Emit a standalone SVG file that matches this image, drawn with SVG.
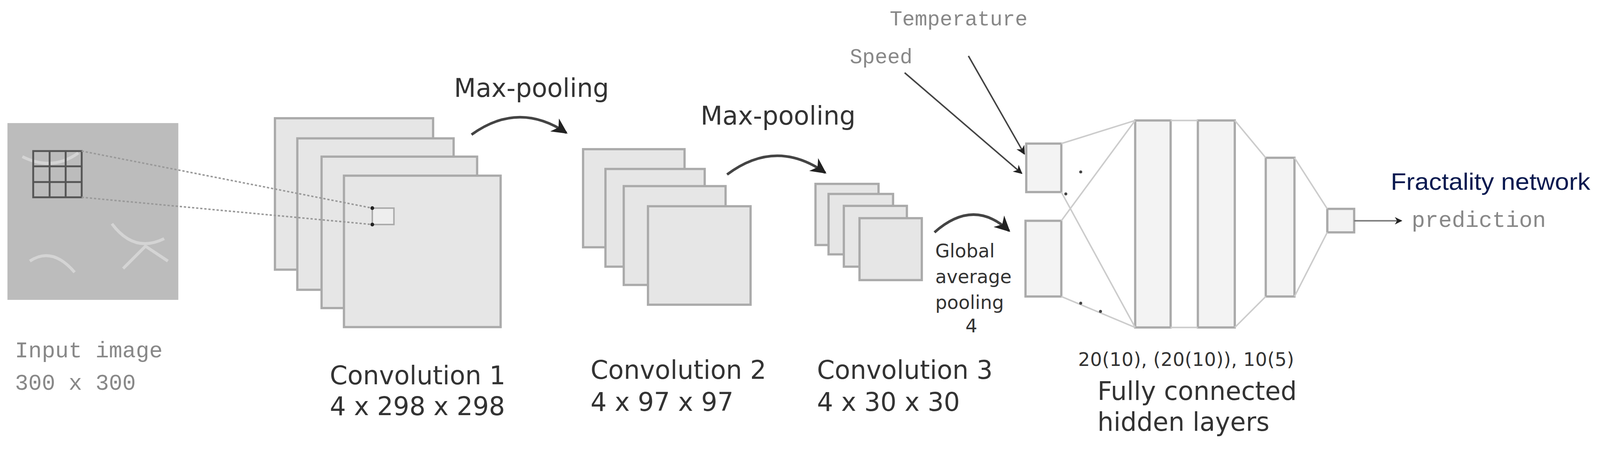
<svg xmlns="http://www.w3.org/2000/svg" width="4288" height="1183" viewBox="0 0 4288 1183">
<style>
.fm{fill:#e6e6e6;stroke:#aaa;stroke-width:6}
.fc{fill:#f3f3f3;stroke:#aaa;stroke-width:6}
.t{font-family:"DejaVu Sans",sans-serif;fill:#333}
.m{font-family:"Liberation Mono",monospace;fill:#888}
.ln{stroke:#ccc;stroke-width:4;fill:none}
.ar{stroke:#444;stroke-width:4;fill:none}
.cv{stroke:#444;stroke-width:7;fill:none}
</style>
<defs>
<marker id="ah" viewBox="0 0 10 10" refX="9" refY="5" markerWidth="6" markerHeight="6" orient="auto"><path d="M0,0L10,5L0,10L3,5z" fill="#222"/></marker>
<marker id="ah2" viewBox="0 0 10 10" refX="9" refY="5" markerWidth="5" markerHeight="5" orient="auto"><path d="M0,0L10,5L0,10L3,5z" fill="#222"/></marker>
</defs>
<rect width="4288" height="1183" fill="#fff"/>
<g transform="scale(0.955)">
<g id="input">
<rect x="20" y="330" width="458" height="474" fill="#bcbcbc"/>
<path d="M60,420 q80,40 150,-10 M300,600 q60,80 140,40 M80,700 q60,-40 120,30 M330,720 l60,-60 l60,40" stroke="#d4d4d4" stroke-width="8" fill="none"/>
<g stroke="#555" stroke-width="5" fill="none">
<rect x="89" y="405" width="130" height="124"/>
<path d="M133,405V529M176,405V529M89,446H219M89,488H219"/>
</g>
<text class="m" x="40" y="958" font-size="60">Input image</text>
<text class="m" x="40" y="1045" font-size="60">300 x 300</text>
</g>
<g id="conv1">
<rect class="fm" x="737" y="317" width="424" height="406"/>
<rect class="fm" x="797" y="371" width="419" height="406"/>
<rect class="fm" x="862" y="420" width="417" height="406"/>
<rect class="fm" x="922" y="471" width="420" height="406"/>
<rect x="998" y="558" width="58" height="44" fill="#eee" stroke="#aaa" stroke-width="4"/>
<text class="t" x="884" y="1030" font-size="68">Convolution 1</text>
<text class="t" x="884" y="1113" font-size="68">4 x 298 x 298</text>
</g>
<g id="conv2">
<rect class="fm" x="1563" y="400" width="272" height="263"/>
<rect class="fm" x="1623" y="453" width="266" height="262"/>
<rect class="fm" x="1672" y="499" width="273" height="265"/>
<rect class="fm" x="1737" y="553" width="275" height="264"/>
<text class="t" x="1583" y="1016" font-size="68">Convolution 2</text>
<text class="t" x="1583" y="1102" font-size="68">4 x 97 x 97</text>
</g>
<g id="conv3">
<rect class="fm" x="2186" y="493" width="169" height="164"/>
<rect class="fm" x="2221" y="520" width="173" height="162"/>
<rect class="fm" x="2262" y="552" width="169" height="163"/>
<rect class="fm" x="2304" y="585" width="167" height="166"/>
<text class="t" x="2190" y="1016" font-size="68">Convolution 3</text>
<text class="t" x="2190" y="1102" font-size="68">4 x 30 x 30</text>
</g>
<g id="gap">
<text class="t" font-size="50"><tspan x="2507" y="690">Global</tspan><tspan x="2507" y="759">average</tspan><tspan x="2507" y="828">pooling</tspan><tspan x="2588" y="891">4</tspan></text>
</g>
<g id="fc">
<rect class="fc" x="2751" y="385" width="94" height="130"/>
<rect class="fc" x="2749" y="592" width="96" height="203"/>
<rect class="fc" x="3043" y="323" width="95" height="555"/>
<rect class="fc" x="3211" y="323" width="99" height="555"/>
<rect class="fc" x="3393" y="423" width="77" height="372"/>
<rect class="fc" x="3558" y="560" width="72" height="63"/>
<text class="t" x="2890" y="981" font-size="50" textLength="579">20(10), (20(10)), 10(5)</text>
<text class="t" x="2942" y="1072" font-size="68">Fully connected</text>
<text class="t" x="2942" y="1155" font-size="68">hidden layers</text>
</g>
<g id="labels">
<text class="m" x="2385" y="68" font-size="56">Temperature</text>
<text class="m" x="2278" y="170" font-size="56">Speed</text>
<text class="m" x="3784" y="608" font-size="60">prediction</text>
<text x="3728" y="509" font-size="64" font-family="Liberation Sans Narrow,Liberation Sans,sans-serif" fill="#0a1a50" textLength="535" lengthAdjust="spacingAndGlyphs">Fractality network</text>
<text class="t" x="1217" y="260" font-size="68">Max-pooling</text>
<text class="t" x="1878" y="334" font-size="68">Max-pooling</text>
</g>
<g id="connectors">
<path d="M219,405L998,558M219,529L998,602" stroke="#999" stroke-width="4" stroke-dasharray="6 5" fill="none"/>
<circle cx="998" cy="558" r="5" fill="#222"/><circle cx="998" cy="602" r="5" fill="#222"/>
<path class="cv" d="M1264,361Q1390,270 1518,356" marker-end="url(#ah)"/>
<path class="cv" d="M1949,468Q2080,370 2212,463" marker-end="url(#ah)"/>
<path class="cv" d="M2505,623Q2610,530 2705,619" marker-end="url(#ah)"/>
<path class="ar" d="M2425,195L2739,465" marker-end="url(#ah)"/>
<path class="ar" d="M2596,150L2746,413" marker-end="url(#ah)"/>
<path class="ln" d="M2845,385L3043,323M2845,795L3043,878M2845,515L3043,878M2845,592L3043,323M3138,323H3211M3138,878H3211M3310,323L3393,423M3310,878L3393,795M3470,423L3558,560M3470,795L3558,623"/>
<circle cx="2897" cy="461" r="4" fill="#444"/><circle cx="2857" cy="520" r="4" fill="#444"/>
<circle cx="2897" cy="813" r="4" fill="#444"/><circle cx="2950" cy="835" r="4" fill="#444"/>
<path d="M3630,592H3757" stroke="#777" stroke-width="4" marker-end="url(#ah2)"/>
</g>
</g>
</svg>
